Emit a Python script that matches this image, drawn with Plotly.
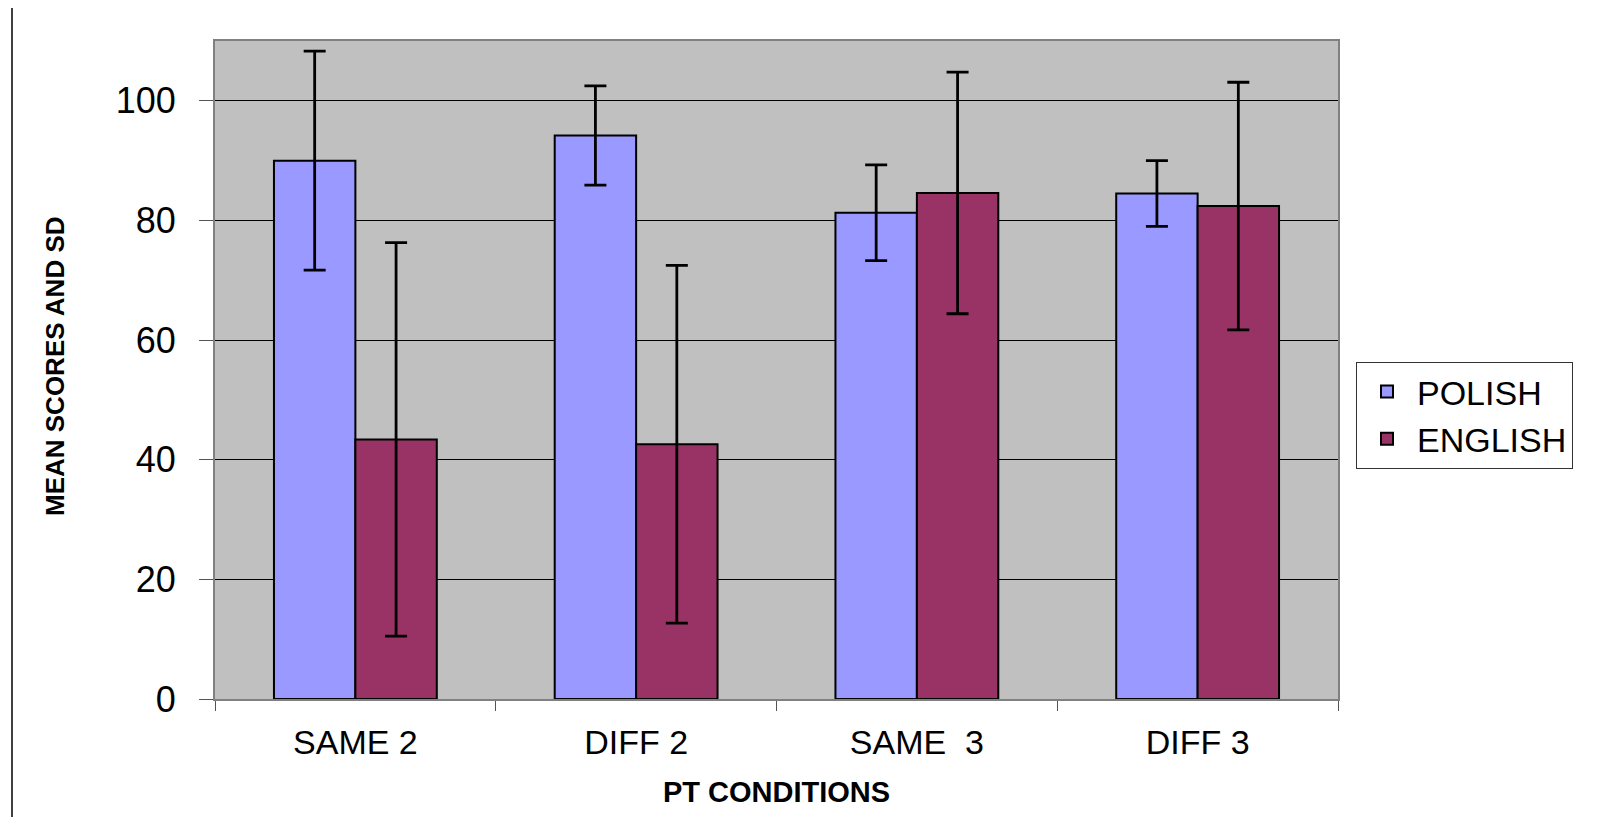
import plotly.graph_objects as go

categories = ["SAME 2", "DIFF 2", "SAME  3", "DIFF 3"]
polish_mean = [90.0, 94.2, 81.3, 84.5]
polish_sd = [18.3, 8.3, 8.0, 5.5]
english_mean = [43.4, 42.6, 84.6, 82.4]
english_sd = [32.9, 29.9, 20.2, 20.7]
y_ticks = [0, 20, 40, 60, 80, 100]

FONT = "Liberation Sans, Arial, sans-serif"

# page body has an 8px margin; figure sized to fit the window
W, H = 1601, 809
L, T, R, B = 207, 33, 271, 118
PW, PH = W - L - R, H - T - B

fig = go.Figure()
fig.add_trace(go.Bar(
    name="POLISH", x=categories, y=polish_mean,
    marker=dict(color="#9999FF", line=dict(color="black", width=2)),
    error_y=dict(type="data", array=polish_sd, visible=True, color="black", thickness=2.8, width=11),
))
fig.add_trace(go.Bar(
    name="ENGLISH", x=categories, y=english_mean,
    marker=dict(color="#993366", line=dict(color="black", width=2)),
    error_y=dict(type="data", array=english_sd, visible=True, color="black", thickness=2.8, width=11),
))

fig.update_layout(
    width=W, height=H,
    margin=dict(l=L, r=R, t=T, b=B, autoexpand=False),
    paper_bgcolor="white",
    plot_bgcolor="#C0C0C0",
    barmode="group",
    bargap=0.42,
    bargroupgap=0,
    font=dict(family=FONT, color="black"),
    showlegend=True,
    legend=dict(
        x=(1356 - 215) / PW, y=1 - (362 - 41) / PH, xanchor="left", yanchor="top",
        bgcolor="white", bordercolor="#333333", borderwidth=1,
        font=dict(size=34, family=FONT),
        itemsizing="constant",
        itemwidth=50,
        tracegroupgap=0,
    ),
    xaxis=dict(
        type="category",
        tickson="boundaries",
        ticks="outside", ticklen=10, tickcolor="#555555",
        tickfont=dict(size=34, family=FONT),
        ticklabelstandoff=12,
        showline=True, linecolor="#808080", linewidth=2, mirror=True,
        title=dict(text="<b>PT CONDITIONS</b>", font=dict(size=29, family=FONT), standoff=22),
    ),
    yaxis=dict(
        range=[0, 110],
        tickvals=y_ticks,
        ticks="outside", ticklen=14, tickcolor="#555555",
        tickfont=dict(size=36, family=FONT),
        ticklabelstandoff=16,
        showgrid=True, gridcolor="black", gridwidth=1,
        showline=True, linecolor="#808080", linewidth=2, mirror=True,
        zeroline=False,
    ),
    annotations=[dict(
        text="<b>MEAN SCORES AND SD</b>",
        xref="paper", yref="paper",
        x=(55 - 215) / PW, y=1 - (366 - 41) / PH,
        xanchor="center", yanchor="middle",
        textangle=-90, showarrow=False,
        font=dict(size=26, family=FONT, color="black"),
    )],
    shapes=[dict(
        type="line", xref="paper", yref="paper",
        x0=(12 - 215) / PW, x1=(12 - 215) / PW,
        y0=-(B + 20) / PH, y1=1 + (T + 20) / PH,
        line=dict(color="black", width=1.5),
    )],
)

fig.write_html("out.html")
